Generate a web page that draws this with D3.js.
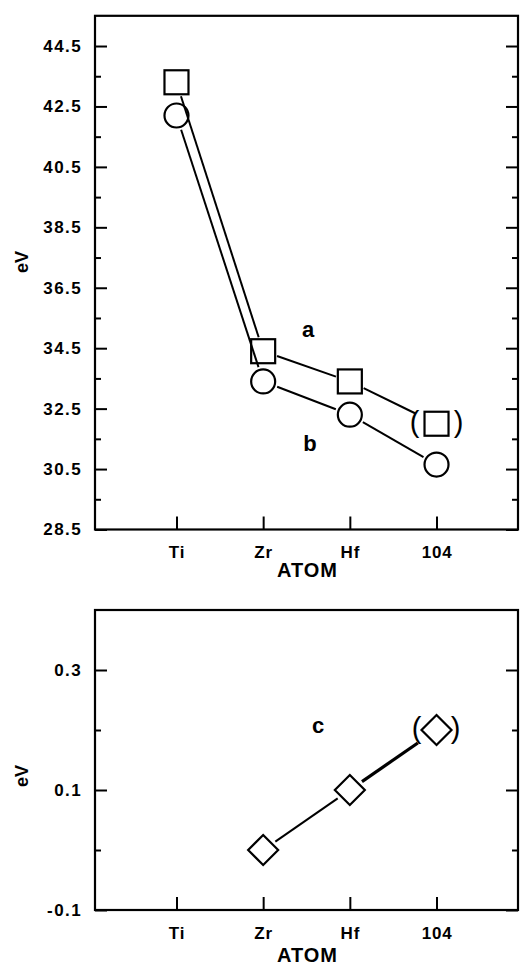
<!DOCTYPE html>
<html><head><meta charset="utf-8">
<script src="https://cdn.jsdelivr.net/npm/d3@7"></script>
<style>
html,body{margin:0;padding:0;background:#fff;}
text{font-family:"Liberation Sans",Arial,sans-serif;fill:#000;}
</style></head>
<body><svg id="c" width="523" height="967"></svg>
<script>
// ---- data ----
const categories = ["Ti", "Zr", "Hf", "104"];
const seriesA = [43.3, 34.4, 33.4, 32.0];      // squares (a)
const seriesB = [42.2, 33.4, 32.3, 30.65];     // circles (b)
const seriesC = [null, 0.0, 0.1, 0.2];         // diamonds (c)
const topMajorTicks = [28.5, 30.5, 32.5, 34.5, 36.5, 38.5, 40.5, 42.5, 44.5];
const topMinorTicks = [29.5, 31.5, 33.5, 35.5, 37.5, 39.5, 41.5, 43.5];
const botMajorTicks = [-0.1, 0.1, 0.3];
const botMinorTicks = [0.0, 0.2];
const parenthesized = ["104"];

const svg = d3.select("#c");
const L = 95, R = 518;
const fmt = v => d3.format(".1f")(v).replace("\u2212", "-");

const x = d3.scalePoint().domain(categories).range([L, R]).padding(0.94);

function panel(y0, y1, domain, major, minor, eVy, atomOff, tickOff) {
  const y = d3.scaleLinear().domain(domain).range([y1, y0]);
  const g = svg.append("g");
  g.append("rect").attr("x", L).attr("y", y0).attr("width", R - L).attr("height", y1 - y0)
    .attr("fill", "none").attr("stroke", "#000").attr("stroke-width", 2.2);
  const la = g.append("g").attr("transform", `translate(${L},0)`)
    .call(d3.axisLeft(y).tickValues(major).tickSize(-12).tickPadding(13).tickFormat(fmt));
  la.select(".domain").remove();
  la.selectAll("line").attr("stroke-width", 2);
  la.selectAll("text").attr("font-size", 17).attr("font-weight", "bold").attr("letter-spacing", 1.4);
  const lm = g.append("g").attr("transform", `translate(${L},0)`)
    .call(d3.axisLeft(y).tickValues(minor).tickSize(-6).tickFormat(""));
  lm.select(".domain").remove();
  lm.selectAll("line").attr("stroke-width", 2);
  const ra = g.append("g").attr("transform", `translate(${R},0)`)
    .call(d3.axisRight(y).tickValues(major).tickSize(-12).tickFormat(""));
  ra.select(".domain").remove();
  ra.selectAll("line").attr("stroke-width", 2);
  const rm = g.append("g").attr("transform", `translate(${R},0)`)
    .call(d3.axisRight(y).tickValues(minor).tickSize(-6).tickFormat(""));
  rm.select(".domain").remove();
  rm.selectAll("line").attr("stroke-width", 2);
  const ba = g.append("g").attr("transform", `translate(0,${y1})`)
    .call(d3.axisBottom(x).tickSize(-13));
  ba.select(".domain").remove();
  ba.selectAll("line").attr("stroke-width", 2);
  ba.selectAll("text").attr("font-size", 17).attr("font-weight", "bold").attr("letter-spacing", 0.8)
    .attr("y", tickOff).attr("dy", null);
  g.append("text").attr("x", (x("Zr") + x("Hf")) / 2 + 1).attr("y", y1 + atomOff)
    .attr("text-anchor", "middle").attr("font-size", 20).attr("font-weight", "bold")
    .attr("letter-spacing", 1).text("ATOM");
  g.append("text").attr("transform", `translate(28,${eVy}) rotate(-90)`)
    .attr("text-anchor", "middle").attr("font-size", 18).attr("font-weight", "bold").text("eV");
  return {y, g};
}

function edgeDist(shape, h, dx, dy) {
  const len = Math.hypot(dx, dy), c = Math.abs(dx) / len, s = Math.abs(dy) / len;
  if (shape === "square") return h / Math.max(c, s);
  if (shape === "diamond") return h / (c + s);
  return h;
}

function series(g, y, vals, shape, h, gap, widths, parenOff) {
  const pts = categories.map((c, i) => ({c, v: vals[i]})).filter(d => d.v != null)
    .map(d => ({c: d.c, px: x(d.c), py: y(d.v)}));
  for (let i = 0; i < pts.length - 1; i++) {
    const a = pts[i], b = pts[i + 1];
    const dx = b.px - a.px, dy = b.py - a.py, len = Math.hypot(dx, dy);
    const ux = dx / len, uy = dy / len;
    const d1 = edgeDist(shape, h, dx, dy) + gap;
    const d2 = edgeDist(shape, h, dx, dy) + gap + (parenthesized.includes(b.c) && parenOff ? 8 : 0);
    g.append("line").attr("x1", a.px + ux * d1).attr("y1", a.py + uy * d1)
      .attr("x2", b.px - ux * d2).attr("y2", b.py - uy * d2)
      .attr("stroke", "#000").attr("stroke-width", widths ? widths[i] : 2);
  }
  pts.forEach(p => {
    if (shape === "square") {
      g.append("rect").attr("x", p.px - h).attr("y", p.py - h).attr("width", 2 * h).attr("height", 2 * h)
        .attr("fill", "none").attr("stroke", "#000").attr("stroke-width", 2.2);
    } else if (shape === "circle") {
      g.append("circle").attr("cx", p.px).attr("cy", p.py).attr("r", h)
        .attr("fill", "none").attr("stroke", "#000").attr("stroke-width", 2.2);
    } else {
      g.append("path").attr("d", `M${p.px},${p.py - h}L${p.px + h},${p.py}L${p.px},${p.py + h}L${p.px - h},${p.py}Z`)
        .attr("fill", "none").attr("stroke", "#000").attr("stroke-width", 2.2);
    }
    if (parenOff && parenthesized.includes(p.c)) {
      [["(", -parenOff[0]], [")", parenOff[1]]].forEach(([t, o]) => {
        g.append("text").attr("x", p.px + o).attr("y", p.py + 8).attr("text-anchor", "middle")
          .attr("font-size", 29).text(t);
      });
    }
  });
}

// top panel
const topPanel = panel(15.8, 529.5, [28.5, 45.5], topMajorTicks, topMinorTicks, 262, 47, 28);
series(topPanel.g, topPanel.y, seriesA, "square", 12, 2, null, [22, 22]);
series(topPanel.g, topPanel.y, seriesB, "circle", 12, 3, null, null);
topPanel.g.append("text").attr("x", 308).attr("y", 337).attr("text-anchor", "middle")
  .attr("font-size", 22).attr("font-weight", "bold").text("a");
topPanel.g.append("text").attr("x", 310).attr("y", 451).attr("text-anchor", "middle")
  .attr("font-size", 22).attr("font-weight", "bold").text("b");

// bottom panel
const botPanel = panel(610, 910, [-0.1, 0.4], botMajorTicks, botMinorTicks, 776, 52, 29);
series(botPanel.g, botPanel.y, seriesC, "diamond", 15, 4, [2, 3.2], [20, 19]);
botPanel.g.append("text").attr("x", 318).attr("y", 733).attr("text-anchor", "middle")
  .attr("font-size", 22).attr("font-weight", "bold").text("c");
</script></body></html>
